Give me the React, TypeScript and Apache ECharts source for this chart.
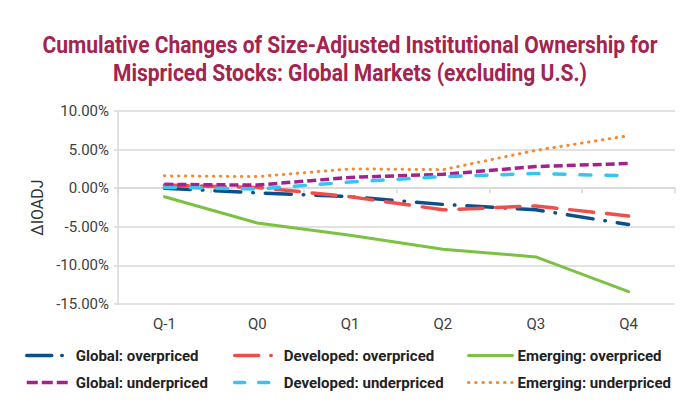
import React, { useEffect, useRef } from "react";
import * as echarts from "echarts";

const titleLines = [
  "Cumulative Changes of Size-Adjusted Institutional Ownership for",
  "Mispriced Stocks: Global Markets (excluding U.S.)",
];
const categories = ["Q-1", "Q0", "Q1", "Q2", "Q3", "Q4"];
const yTicks = { min: -15, max: 10, interval: 5 };
const yAxisName = "ΔIOADJ";

const seriesNames = [
  "Global: overpriced",
  "Developed: overpriced",
  "Emerging: overpriced",
  "Global: underpriced",
  "Developed: underpriced",
  "Emerging: underpriced",
];
const globalOverpriced = [0.0, -0.6, -1.1, -2.1, -2.8, -4.7];
const developedOverpriced = [0.4, 0.1, -1.1, -2.8, -2.3, -3.6];
const emergingOverpriced = [-1.1, -4.5, -6.1, -7.9, -8.9, -13.4];
const globalUnderpriced = [0.5, 0.4, 1.4, 1.8, 2.8, 3.2];
const developedUnderpriced = [0.1, -0.1, 0.8, 1.5, 1.9, 1.6];
const emergingUnderpriced = [1.6, 1.5, 2.5, 2.4, 4.9, 6.8];

const seriesValues = [
  globalOverpriced,
  developedOverpriced,
  emergingOverpriced,
  globalUnderpriced,
  developedUnderpriced,
  emergingUnderpriced,
];

const colors = ["#0B4F8C", "#F04E4B", "#7CC242", "#A3218E", "#36C5F0", "#F58A33"];
const lineStyles: any[] = [
  { width: 3.5, type: [26, 12, 0.5, 12], cap: "round" },
  { width: 3.5, type: [24, 13], cap: "round" },
  { width: 3, type: "solid", cap: "round" },
  { width: 3.5, type: [9, 4], cap: "butt" },
  { width: 3.5, type: [11, 15], cap: "round" },
  { width: 3, type: [0.5, 6.5], cap: "round" },
];
const legendLineStyles: any[] = [
  { width: 3.5, type: [25, 10, 0.5, 30], cap: "round" },
  { width: 3.5, type: [24, 12, 0.5, 30], cap: "round" },
  { width: 3, type: "solid", cap: "round" },
  { width: 3.5, type: [11, 4], cap: "butt" },
  { width: 3.5, type: [10, 14], cap: "round" },
  { width: 3, type: [0.5, 6.7], cap: "round" },
];
const legendPos = [
  [25, 348],
  [233, 348],
  [467, 348],
  [25, 375],
  [233, 375],
  [467, 375],
];

export default function App() {
  const ref = useRef<HTMLDivElement>(null);
  useEffect(() => {
    if (!ref.current) return;
    const chart = echarts.init(ref.current, null, { renderer: "svg" });

    const titleFont = "bold 23px Roboto";
    let scale = 0.8;
    try {
      const c = document.createElement("canvas").getContext("2d");
      if (c) {
        c.font = titleFont;
        const w = c.measureText(titleLines[0]).width;
        if (w > 0) scale = 615 / w;
      }
    } catch (e) {}

    const option: any = {
      animation: false,
      backgroundColor: "#ffffff",
      color: colors,
      grid: { left: 118, right: 25, top: 111, bottom: 108, containLabel: false },
      graphic: titleLines.map((t, i) => ({
        type: "text",
        x: 350,
        y: 45 + i * 28,
        scaleX: scale,
        style: {
          text: t,
          fill: "#A4244E",
          font: titleFont,
          fontFamily: "Roboto",
          fontWeight: "bold",
          fontSize: 23,
          textAlign: "center",
          textVerticalAlign: "middle",
        },
      })),
      legend: seriesNames.map((n, i) => ({
        left: legendPos[i][0],
        top: legendPos[i][1],
        padding: 0,
        itemWidth: 44,
        itemHeight: 14,
        selectedMode: false,
        textStyle: { fontFamily: "Roboto", fontSize: 15, fontWeight: "bold", color: "#222222" },
        data: [
          {
            name: n,
            itemStyle: { opacity: 0, borderWidth: 0 },
            lineStyle: { color: colors[i], ...legendLineStyles[i] },
          },
        ],
      })),
      xAxis: [
        {
          type: "category",
          data: categories,
          position: "top",
          boundaryGap: true,
          axisLine: { show: true, onZero: true, lineStyle: { color: "#D9D9D9", width: 1.5 } },
          axisTick: { show: true, inside: true, length: 5, lineStyle: { color: "#D9D9D9", width: 1.5 } },
          axisLabel: { show: false },
          splitLine: { show: false },
        },
        {
          type: "category",
          data: categories,
          position: "bottom",
          boundaryGap: true,
          axisLine: { show: false, onZero: false },
          axisTick: { show: false },
          axisLabel: { show: true, fontFamily: "Roboto", fontSize: 15, color: "#404040", margin: 12 },
          splitLine: { show: false },
        },
      ],
      yAxis: {
        type: "value",
        min: yTicks.min,
        max: yTicks.max,
        interval: yTicks.interval,
        name: yAxisName,
        nameLocation: "middle",
        nameGap: 73,
        nameTextStyle: { fontFamily: "Roboto", fontSize: 16, color: "#333333" },
        axisLine: { show: true, lineStyle: { color: "#D9D9D9", width: 1.5 } },
        axisTick: { show: true, length: 4, lineStyle: { color: "#D9D9D9", width: 1.5 } },
        axisLabel: {
          fontFamily: "Roboto",
          fontSize: 15,
          color: "#404040",
          margin: 9,
          formatter: (v: number) => v.toFixed(2) + "%",
        },
        splitLine: { show: true, lineStyle: { color: "#D9D9D9", width: 1.5 } },
      },
      series: seriesNames.map((n, i) => ({
        name: n,
        type: "line",
        xAxisIndex: 0,
        data: seriesValues[i],
        symbol: "none",
        smooth: false,
        lineStyle: { color: colors[i], ...lineStyles[i] },
        itemStyle: { color: colors[i] },
      })),
    };
    chart.setOption(option);
    return () => chart.dispose();
  }, []);
  return <div ref={ref} style={{ width: 700, height: 412, margin: -8 }} />;
}
